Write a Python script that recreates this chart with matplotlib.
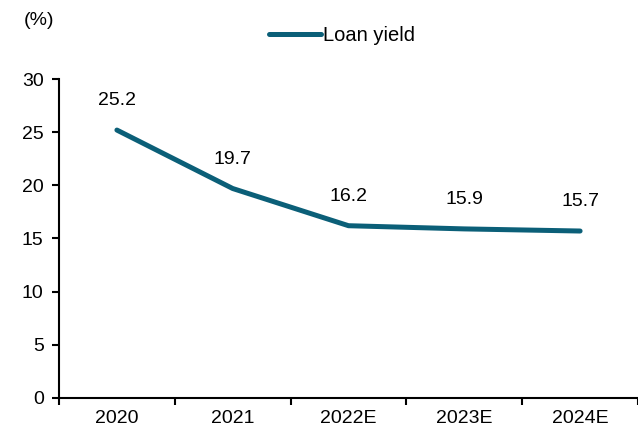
import matplotlib
matplotlib.use("Agg")
import matplotlib.pyplot as plt

plt.rcParams["font.family"] = ["Liberation Sans", "DejaVu Sans"]

# --- data ---
years = ["2020", "2021", "2022E", "2023E", "2024E"]
loan_yield = [25.2, 19.7, 16.2, 15.9, 15.7]
LINE_COLOR = "#0b5f78"
FS = 14

fig = plt.figure(figsize=(6.38, 4.32), dpi=100)
ax = fig.add_axes([0.0925, 0.079, 0.9075, 0.738])

x = range(len(years))
ax.plot(x, loan_yield, color=LINE_COLOR, lw=3.6, solid_capstyle="round",
        label="Loan yield")

# value labels above each point
for xi, v in zip(x, loan_yield):
    ax.annotate(f"{v:.1f}", (xi, v), xytext=(0, 15), textcoords="offset points",
                ha="center", va="bottom", fontsize=FS)

ax.set_xlim(-0.5, len(years) - 0.5)
ax.set_ylim(0, 30)
ax.set_yticks(range(0, 31, 5))
# boundary ticks between categories, labels centred on the categories
ax.set_xticks([i + 0.5 for i in range(-1, len(years))], minor=False)
ax.set_xticklabels([])
ax.set_xticks(list(x), minor=True)
ax.set_xticklabels(years, minor=True)
ax.tick_params(axis="x", which="minor", length=0, pad=9, labelsize=FS)
ax.tick_params(axis="x", which="major", length=5, width=1.5, direction="out")
ax.tick_params(axis="y", length=5, width=1.5, direction="out", labelsize=FS, pad=6)

for side in ["top", "right"]:
    ax.spines[side].set_visible(False)
for side in ["left", "bottom"]:
    ax.spines[side].set_linewidth(1.5)

fig.text(0.038, 0.953, "(%)", fontsize=FS, va="center")
ax.legend(loc="center", bbox_to_anchor=(0.489, 1.137),
          frameon=False, fontsize=14.5, handlelength=2.6, handletextpad=0.1)

fig.savefig("out.png", dpi=100)
